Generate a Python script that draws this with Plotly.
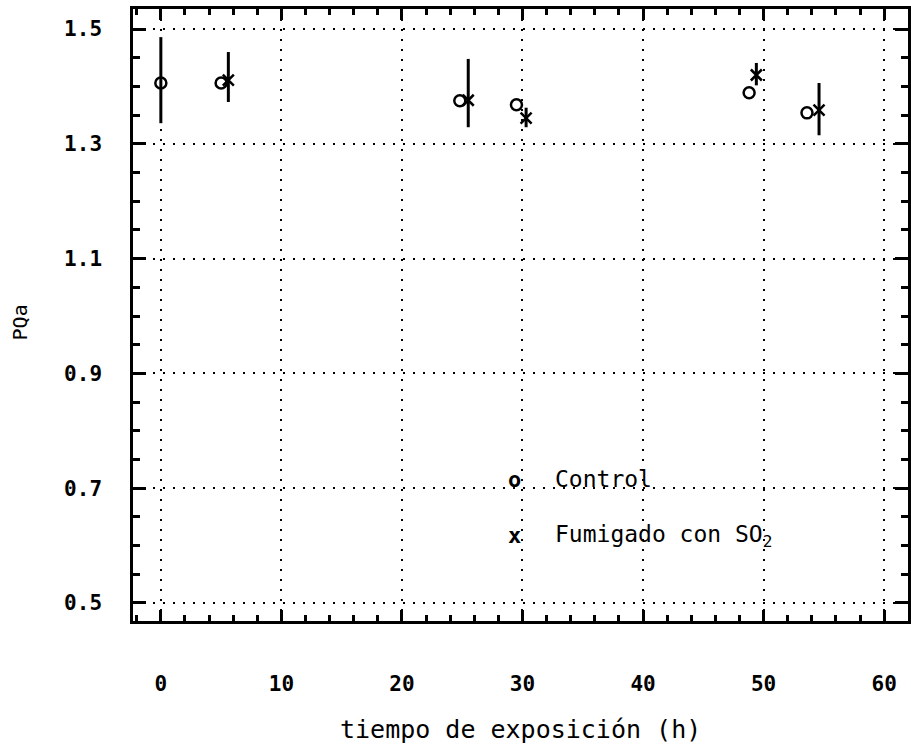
import plotly.graph_objects as go

# Control series
ctrl_t = [0, 5.0, 24.8, 29.5, 48.8, 53.6]
ctrl_pqa = [1.406, 1.406, 1.375, 1.368, 1.389, 1.354]
ctrl_err_up = [0.080, 0, 0, 0, 0, 0]
ctrl_err_dn = [0.070, 0, 0, 0, 0, 0]

# SO2-fumigated series
fum_t = [5.6, 25.5, 30.3, 49.4, 54.6]
fum_pqa = [1.411, 1.376, 1.345, 1.420, 1.359]
fum_err_up = [0.049, 0.072, 0.018, 0.021, 0.047]
fum_err_dn = [0.038, 0.047, 0.016, 0.018, 0.044]

x_ticks = [0, 10, 20, 30, 40, 50, 60]
y_ticks = [0.5, 0.7, 0.9, 1.1, 1.3, 1.5]
y_tick_text = ["0.5", "0.7", "0.9", "1.1", "1.3", "1.5"]

mono = "DejaVu Sans Mono"
ink = "#000000"

fig = go.Figure()

fig.add_trace(go.Scatter(
    x=ctrl_t, y=ctrl_pqa, mode="markers",
    marker=dict(symbol="circle-open", size=11, color=ink,
                line=dict(width=2.5, color=ink)),
    error_y=dict(type="data", symmetric=False, array=ctrl_err_up,
                 arrayminus=ctrl_err_dn, color=ink, thickness=3, width=0),
    name="Control", showlegend=False,
))

fig.add_trace(go.Scatter(
    x=fum_t, y=fum_pqa, mode="markers",
    marker=dict(symbol="x-thin-open", size=11, color=ink,
                line=dict(width=2.5, color=ink)),
    error_y=dict(type="data", symmetric=False, array=fum_err_up,
                 arrayminus=fum_err_dn, color=ink, thickness=3, width=0),
    name="Fumigado con SO2", showlegend=False,
))

axis_common = dict(
    showline=True, linecolor=ink, linewidth=2.5, mirror="allticks",
    ticks="inside", tickcolor=ink, tickwidth=3,
    showgrid=True, gridcolor=ink, gridwidth=2, griddash="2px,8px",
    zeroline=False,
    tickfont=dict(family=mono, size=21, color=ink, weight="bold"),
)

fig.update_xaxes(
    range=[-2.31, 61.98], tickvals=x_ticks,
    ticklen=11, ticklabelstandoff=42,
    minor=dict(dtick=2, ticks="inside", ticklen=6,
               tickcolor=ink, tickwidth=3, showgrid=False),
    **axis_common,
)
fig.update_yaxes(
    range=[0.4686, 1.535], tickvals=y_ticks,
    ticktext=y_tick_text, ticklen=13, ticklabelstandoff=24,
    minor=dict(dtick=0.05, ticks="inside", ticklen=7,
               tickcolor=ink, tickwidth=3, showgrid=False),
    **axis_common,
)

# Axis titles
fig.add_annotation(text="tiempo de exposición (h)", xref="paper", yref="paper",
                   x=0.5, y=-0.1765, xanchor="center", yanchor="middle",
                   showarrow=False, font=dict(family=mono, size=25, color=ink))
fig.add_annotation(text="PQa", xref="paper", yref="paper",
                   x=-0.1452, y=0.4886, xanchor="center", yanchor="middle",
                   textangle=-90, showarrow=False,
                   font=dict(family=mono, size=20, color=ink))

# In-plot key
key_x_sym = 29.3
key_x_txt = 32.5
fig.add_annotation(text="o", x=key_x_sym, y=0.716, xanchor="center", yanchor="middle",
                   showarrow=False, font=dict(family=mono, size=22, color=ink, weight="bold"))
fig.add_annotation(text="x", x=key_x_sym, y=0.617, xanchor="center", yanchor="middle",
                   showarrow=False, font=dict(family=mono, size=22, color=ink, weight="bold"))
fig.add_annotation(text="Control", x=key_x_txt, y=0.716, xanchor="left", yanchor="middle",
                   showarrow=False, font=dict(family=mono, size=23, color=ink))
fig.add_annotation(text="Fumigado con SO<sub>2</sub>", x=key_x_txt, y=0.617,
                   xanchor="left", yanchor="middle",
                   showarrow=False, font=dict(family=mono, size=23, color=ink))

fig.update_layout(
    width=911, height=746,
    margin=dict(l=133, r=0, t=9, b=125),
    paper_bgcolor="white", plot_bgcolor="white",
    showlegend=False,
)

fig.write_html("out.html")
